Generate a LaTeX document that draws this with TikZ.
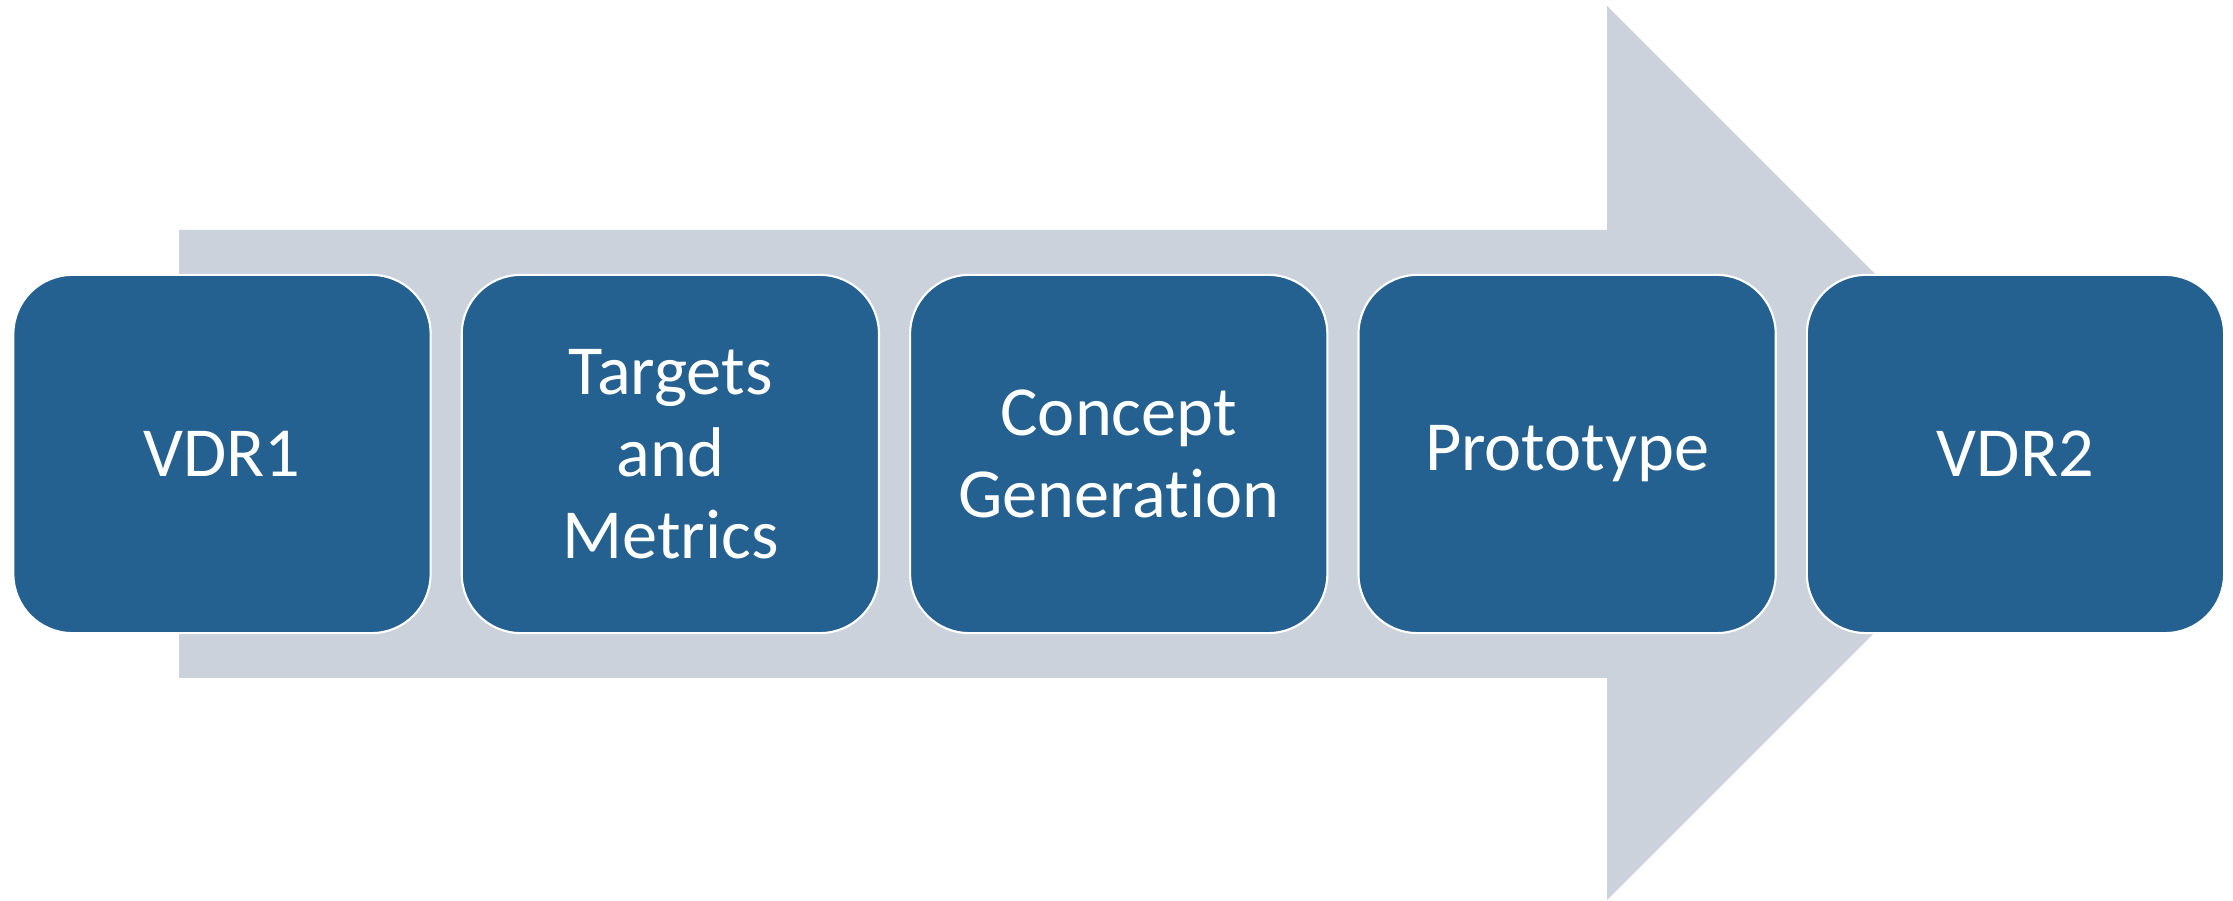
\documentclass[tikz,border=0pt]{standalone}
\usepackage{fontspec}
\setmainfont[Ligatures=NoCommon]{Carlito}
\usetikzlibrary{positioning}
\definecolor{stageblue}{RGB}{36,97,145}
\definecolor{arrowgray}{RGB}{203,210,220}
\tikzset{stage/.style={rectangle, rounded corners=0.59cm, fill=stageblue, draw=white, line width=0.6pt,
    minimum width=4.17cm, minimum height=3.58cm, text=white, align=center,
    font=\fontsize{20}{23.3}\selectfont}}

\begin{document}
\begin{tikzpicture}[x=0.01cm, y=-0.01cm, node distance=0.29cm]
    \useasboundingbox (0,0) rectangle (2233,901);

    \fill[arrowgray] (179,230) -- (1607,230) -- (1607,6) -- (2054,453) -- (1607,900) -- (1607,678) -- (179,678) -- cycle;

    \node[stage] (vdr1) at (222,454) {VDR1};
    \node[stage, right=of vdr1] (targets) {Targets\\and\\Metrics};
    \node[stage, right=of targets] (concept) {Concept\\Generation};
    \node[stage, right=of concept] (proto) {Prototype};
    \node[stage, right=of proto] (vdr2) {VDR2};
\end{tikzpicture}
\end{document}
